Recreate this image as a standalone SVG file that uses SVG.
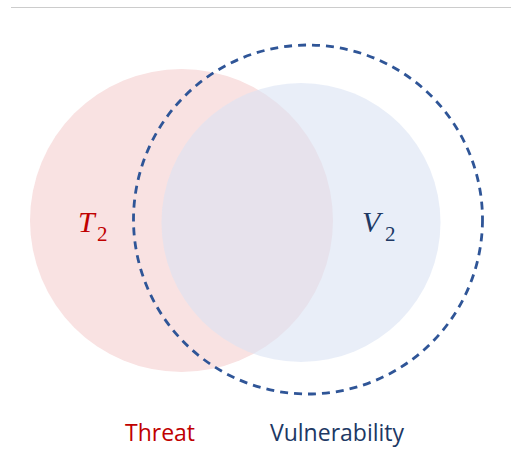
<svg xmlns="http://www.w3.org/2000/svg" width="511" height="464" viewBox="0 0 511 464">
<style>
.sym{font-family:"Liberation Serif","DejaVu Serif",serif;font-style:italic;font-size:30px}
.sub{font-family:"Liberation Serif","DejaVu Serif",serif;font-size:21px}
.lbl{font-family:"Open Sans","Liberation Sans",sans-serif;font-size:23px}
</style>
<rect width="511" height="464" fill="#ffffff"/>
<line x1="11" y1="7.5" x2="511" y2="7.5" stroke="#cccccc" stroke-width="1"/>
<g id="threat">
<circle cx="181.5" cy="220.5" r="151.5" fill="#f9e2e2"/>
</g>
<g id="vulnerability">
<circle cx="301" cy="222.5" r="139.5" fill="rgb(218,227,243)" fill-opacity="0.6"/>
</g>
<g id="scope">
<circle cx="308" cy="219.5" r="174.5" fill="none" stroke="#2f5597" stroke-width="2.8" stroke-dasharray="8 6"/>
</g>
<g id="t2-label">
<text class="sym" x="78" y="232" fill="#c00000">T</text>
<text class="sub" x="97" y="241" fill="#c00000">2</text>
</g>
<g id="v2-label">
<text class="sym" x="362" y="232" fill="#203864">V</text>
<text class="sub" x="385" y="241" fill="#203864">2</text>
</g>
<g id="threat-label">
<text class="lbl" x="125" y="441" fill="#c00000">Threat</text>
</g>
<g id="vuln-label">
<text class="lbl" x="270" y="441" fill="#203864">Vulnerability</text>
</g>
</svg>
